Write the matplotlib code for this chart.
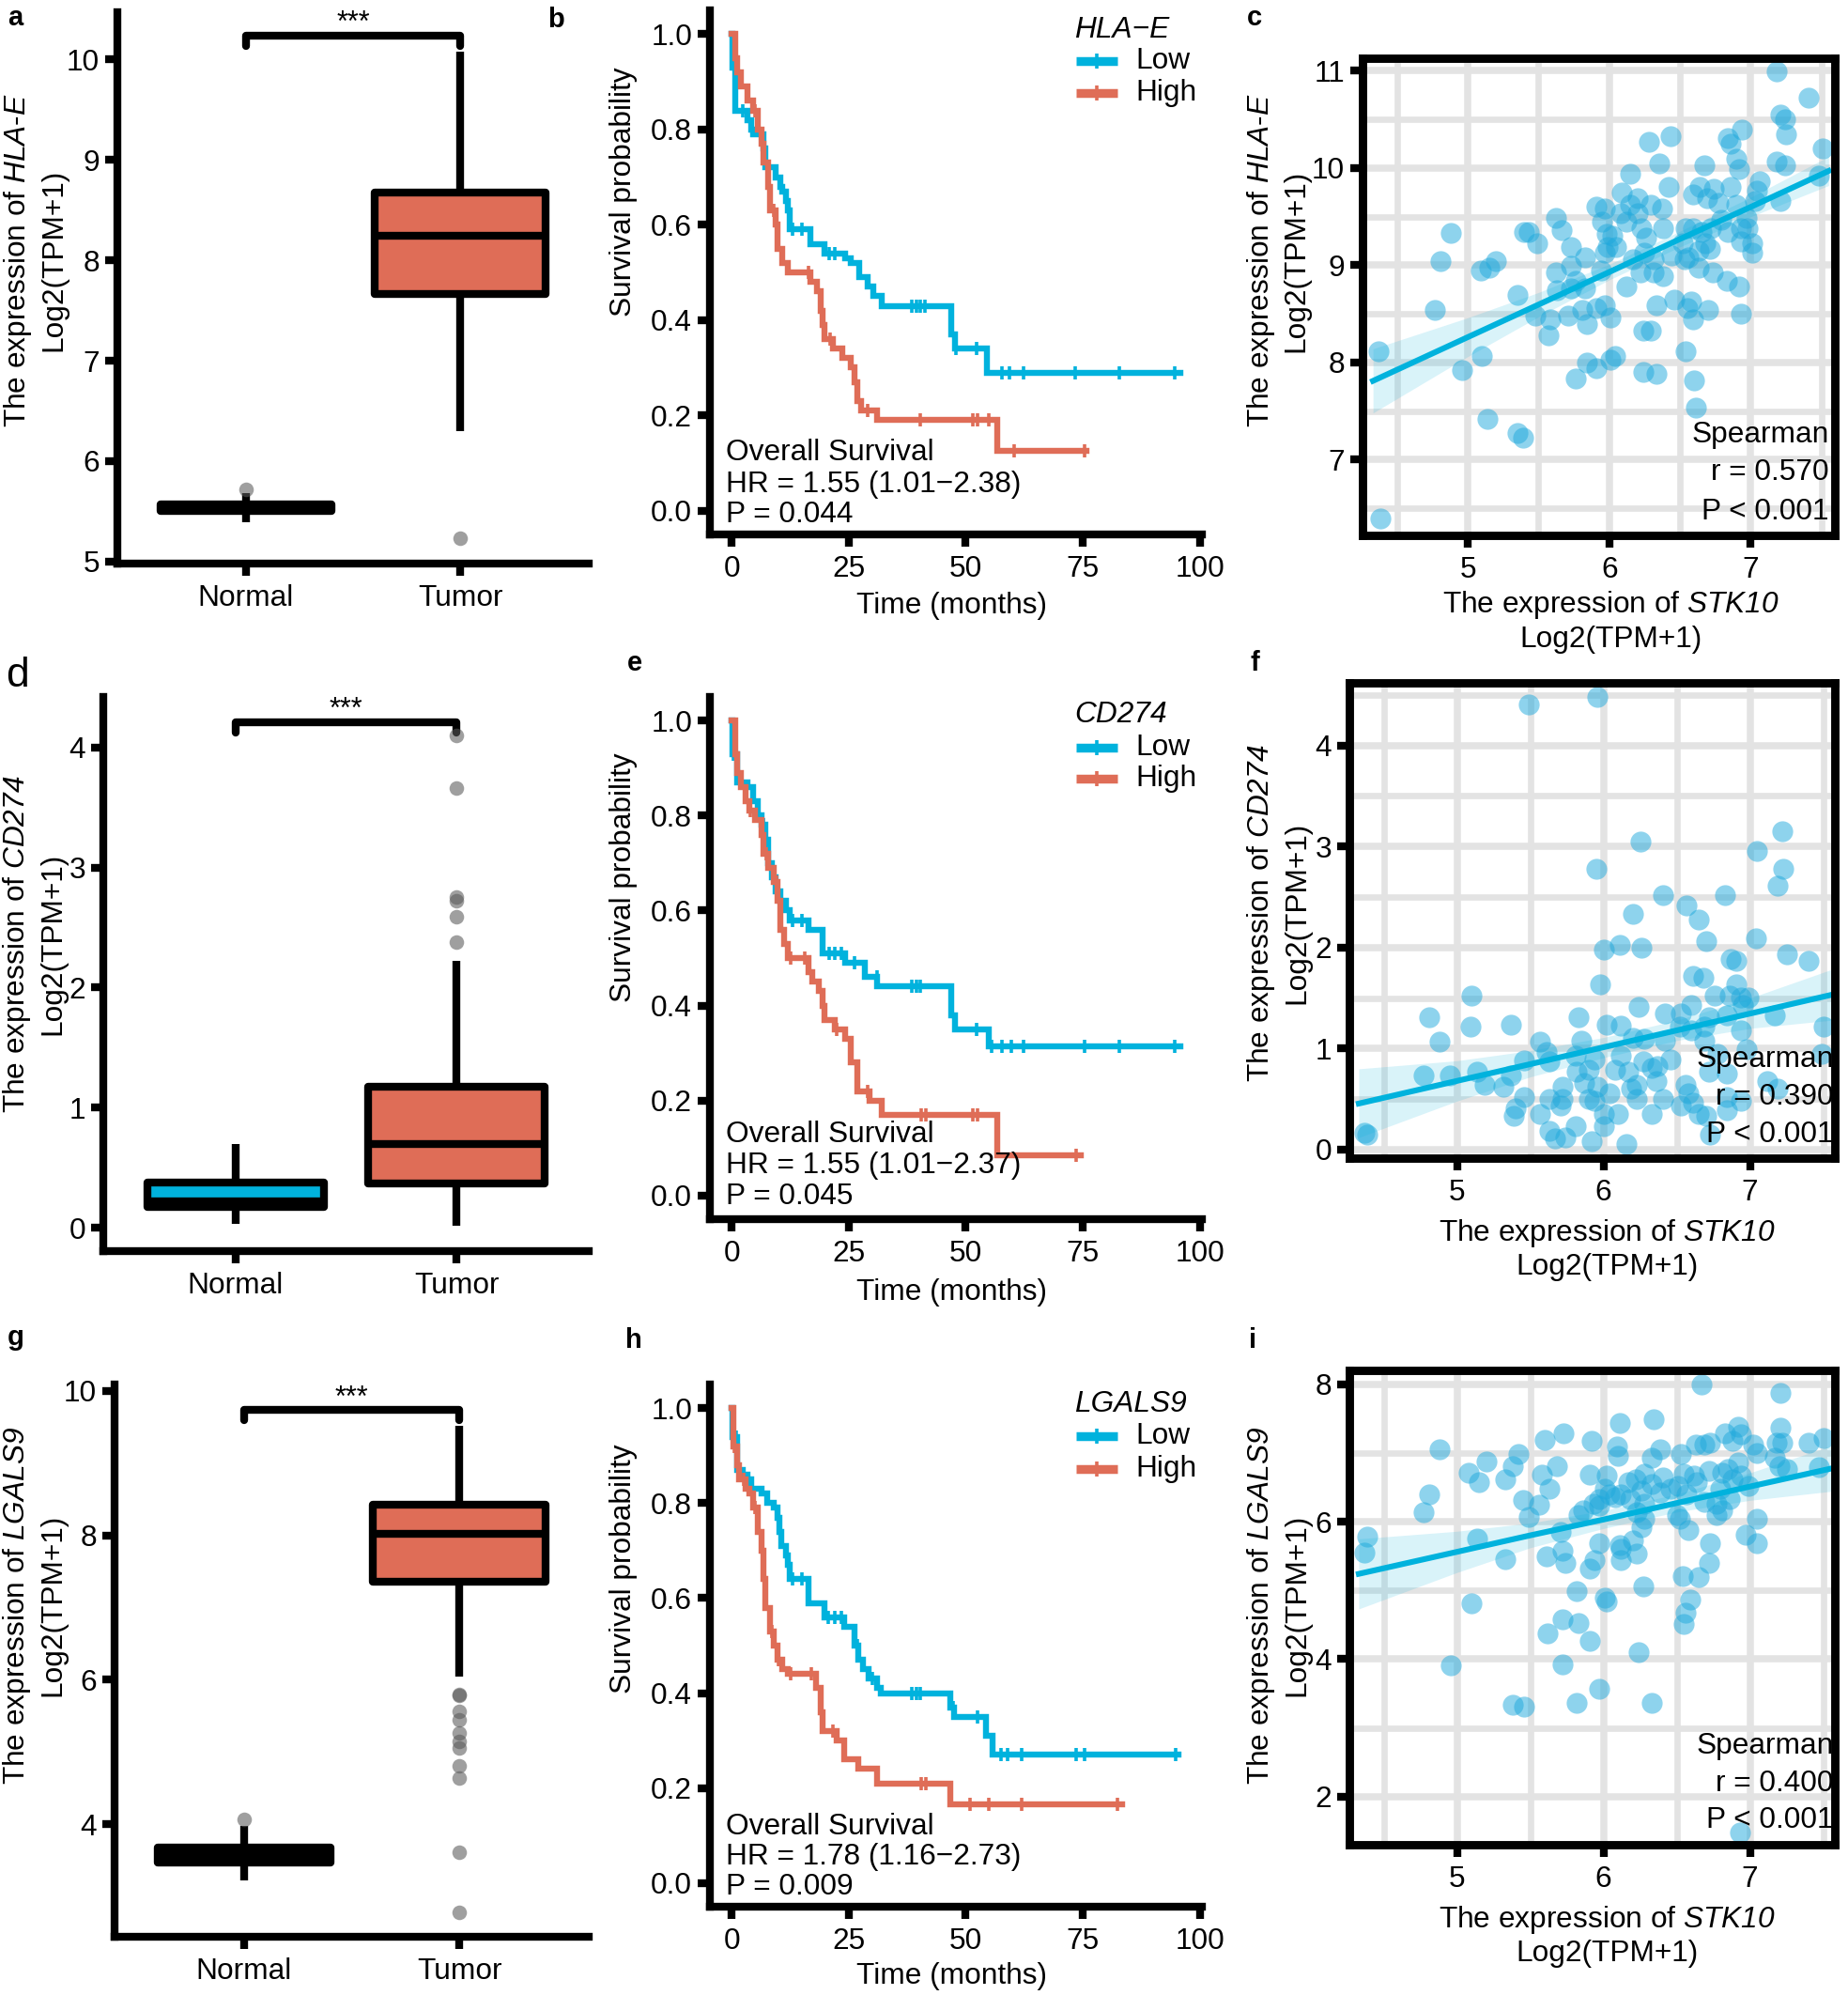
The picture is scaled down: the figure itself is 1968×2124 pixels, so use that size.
import numpy as np
import matplotlib
matplotlib.use('Agg')
import matplotlib.pyplot as plt

plt.rcParams['font.family'] = ['Liberation Sans', 'DejaVu Sans']
plt.rcParams['mathtext.fontset'] = 'custom'
plt.rcParams['mathtext.rm'] = 'Liberation Sans'
plt.rcParams['mathtext.it'] = 'Liberation Sans:italic'
plt.rcParams['mathtext.sf'] = 'Liberation Sans:italic'
plt.rcParams['mathtext.bf'] = 'Liberation Sans:bold'

# ---------------- data ----------------
groups = ['Normal', 'Tumor']

# boxplots (Normal, Tumor)
hla_q1 = [5.50, 7.66]; hla_med = [5.535, 8.24]; hla_q3 = [5.57, 8.67]
hla_wlo = [5.39, 6.30]; hla_whi = [5.68, 10.08]
hla_out_normal = [5.72]; hla_out_tumor = [5.23]

cd_q1 = [0.17, 0.37]; cd_med = [0.22, 0.70]; cd_q3 = [0.375, 1.175]
cd_wlo = [0.035, 0.02]; cd_whi = [0.70, 2.22]
cd_out_normal = []; cd_out_tumor = [2.38, 2.59, 2.72, 2.75, 3.66, 4.10]

lg_q1 = [3.47, 7.36]; lg_med = [3.57, 8.02]; lg_q3 = [3.67, 8.42]
lg_wlo = [3.22, 6.04]; lg_whi = [3.97, 9.52]
lg_out_normal = [4.07]
lg_out_tumor = [5.78, 5.80, 5.56, 5.44, 5.26, 5.14, 5.05, 4.81, 4.64, 3.61, 2.78]

# Kaplan-Meier step curves (time in months, survival probability)
b_low_t = [0, 0.2, 0.7, 3.3, 4.2, 4.6, 6.8, 7.2, 9.4, 10.3, 10.7, 11.6, 12.0, 12.4, 16.8, 19.8, 24.2, 25.5, 27.2, 29.0, 30.3, 32.0, 46.8, 47.7, 54.6, 95.9]
b_low_s = [1.0, 0.93, 0.84, 0.82, 0.80, 0.79, 0.76, 0.72, 0.70, 0.68, 0.67, 0.65, 0.63, 0.59, 0.56, 0.54, 0.53, 0.52, 0.49, 0.47, 0.45, 0.43, 0.37, 0.34, 0.29, 0.29]
b_low_cens = [2.4, 12.9, 15.0, 20.7, 22.0, 38.5, 39.4, 40.3, 41.2, 48.0, 52.4, 57.7, 59.4, 62.4, 73.3, 82.9, 94.6]
b_high_t = [0, 0.7, 1.1, 2.0, 3.3, 4.6, 5.5, 6.3, 6.8, 7.7, 8.1, 9.4, 9.8, 10.7, 12.0, 16.8, 18.1, 19.0, 19.4, 19.8, 21.6, 23.7, 25.5, 26.3, 26.8, 27.7, 31.1, 56.8, 75.9]
b_high_s = [1.0, 0.95, 0.92, 0.89, 0.86, 0.84, 0.80, 0.77, 0.73, 0.68, 0.63, 0.60, 0.55, 0.52, 0.50, 0.48, 0.46, 0.42, 0.39, 0.36, 0.34, 0.32, 0.30, 0.27, 0.23, 0.21, 0.19, 0.125, 0.125]
b_high_cens = [5.0, 7.9, 9.0, 16.3, 21.0, 29.0, 40.3, 51.5, 52.5, 55.0, 60.3, 75.5]

e_low_t = [0, 0.1, 1.1, 3.3, 4.6, 5.5, 6.3, 7.2, 7.7, 8.5, 9.4, 10.3, 11.6, 12.4, 16.3, 19.4, 24.2, 28.5, 31.1, 46.8, 47.7, 55.0, 95.9]
e_low_s = [1.0, 0.93, 0.87, 0.86, 0.83, 0.80, 0.78, 0.75, 0.70, 0.67, 0.64, 0.62, 0.60, 0.58, 0.56, 0.51, 0.49, 0.46, 0.44, 0.38, 0.35, 0.315, 0.315]
e_low_cens = [0.3, 6.8, 8.0, 12.9, 15.0, 20.7, 22.0, 23.5, 26.3, 31.0, 38.5, 39.4, 40.3, 52.4, 55.5, 57.7, 59.8, 62.4, 75.5, 82.9, 94.6]
e_high_t = [0, 0.7, 1.1, 2.0, 2.9, 3.7, 5.0, 6.3, 6.8, 7.7, 9.0, 9.8, 10.3, 11.1, 12.0, 16.3, 17.2, 18.5, 19.4, 19.8, 22.0, 24.2, 25.5, 26.8, 29.4, 32.0, 56.8, 74.6]
e_high_s = [1.0, 0.93, 0.89, 0.86, 0.83, 0.81, 0.79, 0.76, 0.72, 0.69, 0.66, 0.62, 0.56, 0.53, 0.50, 0.47, 0.45, 0.43, 0.40, 0.37, 0.35, 0.33, 0.28, 0.22, 0.20, 0.17, 0.085, 0.085]
e_high_cens = [4.0, 7.3, 9.5, 12.5, 15.5, 22.5, 29.0, 40.5, 41.5, 51.5, 52.5, 73.5]

h_low_t = [0, 0.2, 1.1, 2.4, 3.3, 4.2, 6.3, 7.6, 8.9, 9.8, 10.2, 10.6, 11.5, 11.9, 12.4, 16.3, 19.7, 24.1, 26.2, 27.1, 28.0, 29.3, 31.0, 31.9, 46.6, 47.5, 54.4, 55.7, 95.5]
h_low_s = [1.0, 0.94, 0.87, 0.86, 0.85, 0.83, 0.82, 0.80, 0.79, 0.77, 0.74, 0.71, 0.69, 0.67, 0.64, 0.59, 0.56, 0.54, 0.50, 0.47, 0.45, 0.43, 0.41, 0.40, 0.37, 0.35, 0.31, 0.27, 0.27]
h_low_cens = [1.0, 12.9, 15.0, 20.5, 22.0, 23.5, 26.8, 30.0, 38.5, 39.4, 40.3, 47.2, 52.5, 57.5, 59.0, 62.0, 73.5, 75.5, 94.8]
h_high_t = [0, 0.3, 1.1, 1.6, 2.9, 3.7, 4.6, 5.5, 6.3, 6.8, 7.2, 8.1, 9.0, 9.8, 10.7, 11.9, 18.0, 18.9, 19.3, 22.4, 24.1, 27.1, 31.0, 46.6, 83.4]
h_high_s = [1.0, 0.92, 0.88, 0.85, 0.83, 0.82, 0.79, 0.74, 0.70, 0.64, 0.58, 0.53, 0.50, 0.47, 0.45, 0.44, 0.41, 0.36, 0.32, 0.30, 0.26, 0.24, 0.21, 0.165, 0.165]
h_high_cens = [0.5, 2.5, 5.0, 7.0, 8.5, 10.0, 12.5, 17.0, 21.5, 40.5, 41.5, 51.0, 55.0, 62.0, 82.5]

# scatter: (STK10, gene) pairs
c_points = list(zip(
    [7.18, 7.41, 7.21, 7.24, 7.25, 7.51, 7.48, 7.18, 7.24, 7.21, 6.94, 6.84, 6.86, 6.90, 6.92, 6.67, 6.64, 6.59, 6.69, 6.77,
     6.86, 7.06, 7.04, 7.03, 6.90, 6.97, 6.93, 6.98, 7.01, 7.01, 6.93, 6.84, 6.79, 6.72, 6.65, 6.68, 6.71, 6.63, 6.54, 6.59,
     6.52, 6.56, 6.42, 6.35, 6.28, 6.43, 6.15, 6.09, 6.20, 6.15, 6.29, 6.37, 6.12, 6.23, 6.38, 6.26, 5.91, 5.97, 5.95, 5.98,
     6.02, 5.99, 5.97, 6.17, 6.25, 6.31, 6.22, 6.31, 6.38, 6.44, 6.53, 6.63, 6.73, 6.83, 6.92, 6.93, 6.70, 6.58, 6.55, 6.59,
     6.46, 6.33, 6.24, 6.29, 6.12, 6.54, 6.60, 6.61, 6.24, 6.33, 6.04, 6.01, 5.84, 5.91, 5.76, 5.97, 5.91, 6.01, 5.81, 5.84,
     5.71, 5.94, 5.83, 5.73, 5.73, 5.73, 5.66, 5.62, 5.62, 5.63, 5.76, 5.83, 5.58, 5.57, 5.48, 5.49, 5.40, 5.43, 5.35, 5.20,
     5.15, 5.09, 4.88, 4.81, 4.77, 4.37, 5.10, 4.96, 5.14, 5.35, 5.39, 4.38, 6.08, 6.05, 6.20, 6.74],
    [10.99, 10.72, 10.55, 10.50, 10.35, 10.20, 9.92, 10.07, 10.03, 9.66, 10.40, 10.31, 10.25, 10.10, 9.99, 10.03, 9.81, 9.73, 9.69, 9.64,
     9.81, 9.86, 9.77, 9.66, 9.62, 9.49, 9.38, 9.38, 9.23, 9.13, 9.25, 9.34, 9.47, 9.38, 9.34, 9.23, 9.17, 9.15, 9.38, 9.38,
     9.23, 9.08, 9.81, 10.05, 10.27, 10.33, 9.94, 9.75, 9.69, 9.62, 9.62, 9.58, 9.45, 9.38, 9.38, 9.28, 9.60, 9.58, 9.45, 9.32,
     9.30, 9.19, 9.13, 9.06, 9.13, 9.06, 8.93, 8.93, 8.89, 9.10, 9.06, 8.97, 8.93, 8.84, 8.78, 8.50, 8.54, 8.63, 8.56, 8.44,
     8.65, 8.59, 8.33, 8.33, 8.78, 8.11, 7.81, 7.53, 7.90, 7.88, 8.07, 8.03, 8.00, 7.94, 7.83, 8.59, 8.56, 8.46, 8.54, 8.39,
     8.48, 8.95, 9.08, 9.19, 8.99, 8.76, 9.36, 9.49, 8.93, 8.74, 8.84, 8.76, 8.44, 8.28, 8.48, 9.23, 9.34, 9.34, 8.69, 9.04,
     8.97, 8.95, 9.33, 9.04, 8.54, 8.11, 8.07, 7.92, 7.42, 7.27, 7.23, 6.39, 9.54, 9.19, 9.54, 9.79]))

f_points = [
    (5.49, 4.41), (5.96, 4.48), (6.25, 3.05), (5.95, 2.78), (7.22, 3.15), (7.05, 2.96), (7.23, 2.78), (7.19, 2.61), (6.41, 2.52), (6.83, 2.52),
    (6.57, 2.42), (6.20, 2.33), (6.65, 2.28), (7.04, 2.09), (6.70, 2.06), (6.00, 1.98), (6.11, 2.03), (6.26, 2.00), (7.25, 1.93), (7.40, 1.87),
    (6.87, 1.89), (6.91, 1.87), (6.61, 1.72), (6.68, 1.70), (5.98, 1.64), (6.91, 1.64), (5.10, 1.52), (6.76, 1.52), (6.86, 1.52), (6.94, 1.51),
    (6.99, 1.51), (6.95, 1.43), (6.60, 1.43), (6.24, 1.41), (6.53, 1.35), (6.42, 1.35), (4.81, 1.31), (5.83, 1.31), (6.84, 1.33), (7.17, 1.33),
    (6.72, 1.31), (5.37, 1.24), (5.09, 1.22), (6.02, 1.24), (6.12, 1.23), (6.52, 1.22), (6.60, 1.18), (6.69, 1.22), (6.94, 1.18), (7.50, 1.22),
    (4.88, 1.07), (5.57, 1.07), (5.85, 1.08), (6.20, 1.11), (6.28, 1.10), (6.42, 1.08), (6.69, 1.08), (5.61, 0.97), (5.81, 0.93), (6.12, 0.93),
    (6.78, 0.95), (6.98, 0.99), (7.49, 0.95), (5.46, 0.88), (5.63, 0.87), (5.94, 0.89), (6.27, 0.87), (6.46, 0.89), (6.37, 0.83), (6.33, 0.81),
    (5.14, 0.77), (4.77, 0.73), (4.95, 0.73), (5.19, 0.64), (5.37, 0.73), (5.82, 0.77), (5.90, 0.79), (6.08, 0.79), (6.17, 0.77), (6.72, 0.77),
    (6.84, 0.75), (5.32, 0.62), (5.87, 0.66), (5.96, 0.62), (6.23, 0.64), (6.36, 0.68), (5.72, 0.62), (6.56, 0.64), (7.12, 0.68), (7.19, 0.60),
    (6.04, 0.56), (6.19, 0.60), (5.46, 0.52), (5.63, 0.50), (5.72, 0.50), (5.90, 0.50), (6.23, 0.50), (6.41, 0.50), (6.58, 0.56), (6.84, 0.52),
    (6.94, 0.48), (5.40, 0.41), (5.71, 0.44), (6.53, 0.44), (6.61, 0.46), (5.94, 0.48), (6.00, 0.35), (6.10, 0.35), (6.33, 0.35), (6.65, 0.35),
    (6.84, 0.39), (5.39, 0.33), (5.57, 0.35), (6.70, 0.33), (5.63, 0.19), (5.81, 0.23), (6.00, 0.23), (5.67, 0.11), (5.74, 0.12), (5.92, 0.08),
    (6.16, 0.06), (6.73, 0.15), (4.37, 0.17), (4.39, 0.15)]

i_points = [
    (6.67, 8.00), (7.21, 7.87), (6.34, 7.49), (6.11, 7.43), (5.73, 7.29), (5.60, 7.19), (5.92, 7.18), (4.88, 7.05), (6.09, 7.10), (6.39, 7.05),
    (5.42, 6.98), (5.20, 6.88), (6.10, 6.96), (6.33, 6.93), (5.38, 6.80), (5.68, 6.81), (6.53, 6.99), (6.83, 7.29), (6.92, 7.38), (6.94, 7.27),
    (6.88, 7.18), (7.02, 7.12), (7.21, 7.37), (7.18, 7.15), (7.22, 7.15), (7.40, 7.15), (7.50, 7.21), (7.05, 7.00), (7.17, 6.93), (7.20, 6.80),
    (7.25, 6.77), (7.47, 6.79), (6.63, 7.12), (6.69, 7.12), (6.73, 7.15), (6.92, 6.86), (6.85, 6.77), (6.81, 6.71), (6.94, 6.67), (6.88, 6.61),
    (6.99, 6.52), (6.72, 6.74), (6.62, 6.67), (6.55, 6.70), (6.64, 6.58), (6.51, 6.52), (6.57, 6.39), (6.41, 6.64), (6.46, 6.48), (6.39, 6.42),
    (6.28, 6.70), (6.33, 6.55), (6.22, 6.61), (6.17, 6.58), (6.26, 6.45), (6.12, 6.39), (6.04, 6.39), (6.02, 6.67), (5.91, 6.69), (6.01, 6.48),
    (5.97, 6.33), (5.97, 6.23), (5.93, 6.26), (6.08, 6.36), (6.18, 6.33), (6.28, 6.26), (6.23, 6.14), (6.28, 6.04), (6.26, 5.92), (6.50, 6.10),
    (6.52, 6.04), (6.58, 5.88), (6.69, 6.29), (6.77, 6.26), (6.77, 6.10), (6.81, 6.17), (6.86, 6.33), (6.80, 6.48), (7.05, 6.04), (6.97, 5.81),
    (7.05, 5.68), (6.73, 5.68), (6.72, 5.40), (6.65, 5.20), (6.54, 5.21), (6.59, 4.87), (6.56, 4.68), (6.55, 4.51), (6.27, 5.06), (6.24, 4.10),
    (6.33, 3.36), (6.12, 5.60), (6.20, 5.73), (6.23, 5.54), (5.97, 5.69), (5.94, 5.44), (5.91, 5.32), (6.01, 4.90), (6.02, 4.84), (5.82, 4.99),
    (5.83, 4.53), (5.72, 4.58), (5.91, 4.26), (5.62, 4.38), (5.72, 3.93), (5.97, 3.57), (5.82, 3.36), (5.38, 3.34), (5.46, 3.31), (4.96, 3.91),
    (5.10, 4.81), (5.33, 5.45), (5.61, 5.50), (5.72, 5.57), (5.74, 5.40), (5.71, 5.85), (5.83, 6.09), (5.86, 6.17), (5.49, 6.07), (5.56, 6.25),
    (5.45, 6.31), (5.63, 6.48), (5.58, 6.69), (5.33, 6.61), (5.08, 6.71), (5.15, 6.58), (4.81, 6.40), (4.77, 6.14), (5.14, 5.76), (4.39, 5.78),
    (4.37, 5.55), (6.93, 1.48), (6.11, 5.66), (6.12, 5.44)]

# fitted regression lines and 95% bands
band_x = [4.33, 5.0, 5.5, 6.0, 6.5, 7.0, 7.55]
c_fit = [7.81, 8.26, 8.595, 8.93, 9.27, 9.60, 9.97]
c_lo = [7.48, 8.06, 8.47, 8.85, 9.19, 9.50, 9.82]
c_hi = [8.14, 8.46, 8.72, 9.01, 9.35, 9.70, 10.12]
f_fit = [0.456, 0.68, 0.846, 1.013, 1.18, 1.346, 1.53]
f_lo = [0.12, 0.48, 0.72, 0.91, 1.08, 1.20, 1.28]
f_hi = [0.80, 0.88, 0.98, 1.11, 1.28, 1.50, 1.78]
i_fit = [5.24, 5.56, 5.80, 6.03, 6.27, 6.51, 6.77]
i_lo = [4.73, 5.26, 5.62, 5.90, 6.14, 6.31, 6.44]
i_hi = [5.75, 5.86, 5.98, 6.16, 6.40, 6.71, 7.10]

# ---------------- style ----------------
CYAN = '#00B2DD'
RED = '#DF6D57'
PT = '#1FA9DC'
GRID = '#E3E3E3'
LW = 3.0
FS = 11.4

W, H = 1968, 2124
DPI = 200
fig = plt.figure(figsize=(W / DPI, H / DPI), dpi=DPI)
fig.patch.set_facecolor('white')


def add_ax(left, right, top, bottom):
    return fig.add_axes([left / W, 1 - bottom / H, (right - left) / W, (bottom - top) / H])


def style(ax, spines=('left', 'bottom')):
    for k, sp in ax.spines.items():
        if k in spines:
            sp.set_linewidth(LW)
            sp.set_color('black')
            sp.set_capstyle('projecting')
        else:
            sp.set_visible(False)
    ax.tick_params(which='major', direction='out', width=LW, length=4.8,
                   labelsize=FS, pad=2, color='black', labelcolor='black')


def gene_label(name):
    return 'The expression of $\\mathsf{' + name + '}$\nLog2(TPM+1)'


def box_panel(ax, q1, med, q3, wlo, whi, out_n, out_t, normal_fill, ylim, yticks,
              bracket_y, bracket_drop, star_y, ylabel, ylab_pos):
    style(ax)
    stats = [dict(med=med[k], q1=q1[k], q3=q3[k], whislo=wlo[k], whishi=whi[k], fliers=[])
             for k in range(2)]
    bp = ax.bxp(stats, positions=[1, 2], widths=0.8, patch_artist=True, showcaps=False,
                showfliers=False,
                boxprops=dict(linewidth=LW, edgecolor='black'),
                whiskerprops=dict(linewidth=LW, color='black', solid_capstyle='butt'),
                medianprops=dict(linewidth=LW, color='black', solid_capstyle='butt'))
    for patch, c in zip(bp['boxes'], [normal_fill, RED]):
        patch.set_facecolor(c)
        patch.set_joinstyle('round')
    for pos, vals in zip([1, 2], [out_n, out_t]):
        if len(vals):
            ax.plot([pos] * len(vals), vals, 'o', color='#5A5A5A', alpha=0.58, ms=5.6, mew=0, zorder=3)
    ax.plot([1, 1, 2, 2], [bracket_y - bracket_drop, bracket_y, bracket_y, bracket_y - bracket_drop],
            color='black', lw=LW, solid_capstyle='round', solid_joinstyle='round', clip_on=False)
    ax.text(1.5, star_y, '***', ha='center', va='center', fontsize=11)
    ax.set_xlim(0.4, 2.6)
    ax.set_ylim(*ylim)
    ax.set_yticks(yticks)
    ax.set_xticks([1, 2])
    ax.set_xticklabels(groups)
    ax.tick_params(axis='x', pad=3)
    ax.text(ylab_pos[0], ylab_pos[1], ylabel, transform=ax.transAxes, rotation=90,
            ha='center', va='center', fontsize=FS, multialignment='center', linespacing=1.25)


def km_curve(ax, t, s, cens, color):
    t = np.asarray(t); s = np.asarray(s)
    ax.step(t, s, where='post', color=color, lw=2.3, solid_joinstyle='miter')
    idx = np.searchsorted(t, cens, side='right') - 1
    ax.plot(cens, s[idx], ls='none', marker='|', ms=5, mew=1.3, color=color)


def km_panel(ax, curves, gene, texts, text_y, leg_y, ylab_y, xlab_y):
    style(ax)
    (lt, ls_, lc), (ht, hs, hc) = curves
    km_curve(ax, lt, ls_, lc, CYAN)
    km_curve(ax, ht, hs, hc, RED)
    ax.set_xlim(-4.7, 100.5)
    ax.set_ylim(-0.05, 1.05)
    ax.set_xticks([0, 25, 50, 75, 100])
    ax.set_yticks([0, 0.2, 0.4, 0.6, 0.8, 1.0])
    ax.set_yticklabels(['0.0', '0.2', '0.4', '0.6', '0.8', '1.0'])
    ax.tick_params(axis='x', pad=3)
    for txt, yy in zip(texts, text_y):
        ax.text(-1.3, yy, txt, ha='left', va='center', fontsize=FS)
    # legend
    tr = ax.transAxes
    ax.text(0.741, leg_y[0], gene, transform=tr, ha='left', va='center', fontsize=FS, style='italic')
    for lab, col, yy in zip(['Low', 'High'], [CYAN, RED], leg_y[1:]):
        ax.plot([0.745, 0.828], [yy, yy], transform=tr, color=col, lw=3.4, clip_on=False,
                solid_capstyle='butt')
        ax.plot([0.7865], [yy], transform=tr, color=col, marker='|', ms=6, mew=1.3, clip_on=False)
        ax.text(0.865, yy, lab, transform=tr, ha='left', va='center', fontsize=FS)
    ax.text(-0.176, ylab_y, 'Survival probability', transform=tr, rotation=90,
            ha='center', va='center', fontsize=FS)
    ax.text(0.492, xlab_y, 'Time (months)', transform=tr, ha='center', va='center', fontsize=FS)


def scatter_panel(ax, pts, fit, lo, hi, xlim, ylim, yticks, yminor, r_txt, ylabel, ylab_pos,
                  xlab_pos, sp_y, sp_x):
    style(ax, spines=('left', 'bottom', 'top', 'right'))
    for sp in ax.spines.values():
        sp.set_linewidth(3.2)
        sp.set_zorder(3)
    ax.set_axisbelow(True)
    ax.set_xticks([5, 6, 7])
    ax.set_xticks([4.5, 5.5, 6.5, 7.5], minor=True)
    ax.set_yticks(yticks)
    ax.set_yticks(yminor, minor=True)
    ax.tick_params(which='minor', length=0)
    ax.grid(which='major', color=GRID, lw=2.7)
    ax.grid(which='minor', color=GRID, lw=2.4)
    xs = [p[0] for p in pts]
    ys = [p[1] for p in pts]
    ax.scatter(xs, ys, s=64, color=PT, alpha=0.5, linewidths=0, zorder=1.5)
    ax.fill_between(band_x, lo, hi, color=CYAN, alpha=0.15, lw=0, zorder=1.6)
    ax.plot(band_x, fit, color=CYAN, lw=2.2, zorder=1.8)
    ax.set_xlim(*xlim)
    ax.set_ylim(*ylim)
    ax.tick_params(axis='x', pad=3)
    tr = ax.transAxes
    for txt, yy in zip(['Spearman', r_txt, 'P < 0.001'], sp_y):
        ax.text(sp_x, yy, txt, transform=tr, ha='right', va='center', fontsize=FS, zorder=2.2)
    ax.text(ylab_pos[0], ylab_pos[1], ylabel, transform=tr, rotation=90, ha='center', va='center',
            fontsize=FS, multialignment='center', linespacing=1.25)
    ax.text(xlab_pos[0], xlab_pos[1], 'The expression of $\\mathsf{STK10}$\nLog2(TPM+1)',
            transform=tr, ha='center', va='center', fontsize=FS, multialignment='center',
            linespacing=1.2)


HLA_LABEL = 'The expression of $\\mathsf{HLA}$-$\\mathsf{E}$\nLog2(TPM+1)'

# ---------------- column 1: boxplots ----------------
ax_a = add_ax(125, 627, 13, 600)
box_panel(ax_a, hla_q1, hla_med, hla_q3, hla_wlo, hla_whi, hla_out_normal, hla_out_tumor, CYAN,
          (4.98, 10.47), [5, 6, 7, 8, 9, 10], 10.24, 0.11, 10.36, HLA_LABEL, (-0.175, 0.55))

ax_d = add_ax(110, 627, 742, 1332)
box_panel(ax_d, cd_q1, cd_med, cd_q3, cd_wlo, cd_whi, cd_out_normal, cd_out_tumor, CYAN,
          (-0.195, 4.42), [0, 1, 2, 3, 4], 4.21, 0.085, 4.31, gene_label('CD274'), (-0.143, 0.554))

ax_g = add_ax(122, 627, 1474, 2062)
box_panel(ax_g, lg_q1, lg_med, lg_q3, lg_wlo, lg_whi, lg_out_normal, lg_out_tumor, CYAN,
          (2.44, 10.09), [4, 6, 8, 10], 9.74, 0.14, 9.90, gene_label('LGALS9'), (-0.170, 0.60))

# ---------------- column 2: KM ----------------
ax_b = add_ax(756, 1280, 11, 569)
km_panel(ax_b, [(b_low_t, b_low_s, b_low_cens), (b_high_t, b_high_s, b_high_cens)], 'HLA\u2212E',
         ['Overall Survival', 'HR = 1.55 (1.01\u22122.38)', 'P = 0.044'], [0.121, 0.055, -0.009],
         [0.963, 0.903, 0.843], 0.654, -0.136)

ax_e = add_ax(756, 1280, 742, 1298)
km_panel(ax_e, [(e_low_t, e_low_s, e_low_cens), (e_high_t, e_high_s, e_high_cens)], 'CD274',
         ['Overall Survival', 'HR = 1.55 (1.01\u22122.37)', 'P = 0.045'], [0.128, 0.062, -0.003],
         [0.966, 0.903, 0.843], 0.654, -0.14)

ax_h = add_ax(756, 1280, 1474, 2030)
km_panel(ax_h, [(h_low_t, h_low_s, h_low_cens), (h_high_t, h_high_s, h_high_cens)], 'LGALS9',
         ['Overall Survival', 'HR = 1.78 (1.16\u22122.73)', 'P = 0.009'], [0.118, 0.055, -0.009],
         [0.963, 0.901, 0.839], 0.647, -0.133)

# ---------------- column 3: scatter ----------------
ax_c = add_ax(1451, 1954, 62, 570)
scatter_panel(ax_c, c_points, c_fit, c_lo, c_hi, (4.256, 7.594), (6.22, 11.13), [7, 8, 9, 10, 11],
              [6.5, 7.5, 8.5, 9.5, 10.5], 'r = 0.570', HLA_LABEL, (-0.179, 0.576),
              (0.525, -0.18), [0.21, 0.131, 0.049], 0.988)

ax_f = add_ax(1437, 1954, 727, 1233)
scatter_panel(ax_f, f_points, f_fit, f_lo, f_hi, (4.266, 7.58), (-0.084, 4.62), [0, 1, 2, 3, 4],
              [0.5, 1.5, 2.5, 3.5, 4.5], 'r = 0.390', gene_label('CD274'), (-0.147, 0.516),
              (0.53, -0.192), [0.207, 0.128, 0.049], 0.997)

ax_i = add_ax(1437, 1954, 1459, 1964)
scatter_panel(ax_i, i_points, i_fit, i_lo, i_hi, (4.266, 7.58), (1.3, 8.2), [2, 4, 6, 8],
              [3, 5, 7], 'r = 0.400', gene_label('LGALS9'), (-0.147, 0.505),
              (0.53, -0.192), [0.208, 0.129, 0.052], 0.997)

# ---------------- panel letters ----------------
def letter(x, y, s, size=10.5, weight='bold'):
    fig.text(x / W, 1 - y / H, s, ha='left', va='baseline', fontsize=size, fontweight=weight)

letter(8, 27, 'a')
letter(583, 29, 'b')
letter(1328, 27, 'c')
letter(6, 731, 'd', size=16, weight='normal')
letter(668, 714, 'e')
letter(1332, 714, 'f')
letter(8, 1432, 'g')
letter(666, 1435, 'h')
letter(1330, 1435, 'i')

fig.savefig('out.png', dpi=DPI, facecolor='white')
